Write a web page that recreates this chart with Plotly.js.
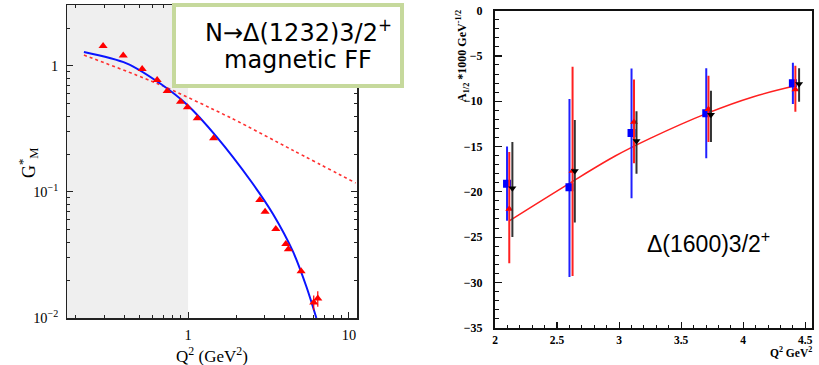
<!DOCTYPE html>
<html>
<head>
<meta charset="utf-8">
<script src="https://cdn.plot.ly/plotly-3.0.1.min.js"></script>
<style>html,body{margin:0;padding:0;background:#fff;}#chart{width:819px;height:365px;}</style>
</head>
<body>
<div id="chart"></div>
<script>
// ---- Left panel: N -> Delta(1232) magnetic form factor ----
const q2Data = [0.296, 0.395, 0.518, 0.642, 0.741, 0.897, 0.99, 1.14, 1.44, 2.79, 3.01, 3.51, 4.05, 4.2, 5.04, 6.04, 6.4];
const gmData = [1.44, 1.21, 0.947, 0.774, 0.633, 0.521, 0.470, 0.385, 0.267, 0.0865, 0.0698, 0.0509, 0.0387, 0.0351, 0.0235, 0.0133, 0.0143];
const gmErr  = [0, 0, 0, 0, 0, 0, 0, 0, 0, 0, 0, 0, 0, 0, 0, 0.0018, 0.002];

const q2Model = [0.225, 0.414, 0.667, 0.99, 1.50, 2.48, 3.37, 4.49, 5.44, 6.27];
const gmModel = [1.29, 1.05, 0.729, 0.49, 0.275, 0.12, 0.0669, 0.0336, 0.0177, 0.01];

const q2Dotted = [0.225, 0.637, 1.86, 4.49, 11.0];
const gmDotted = [1.22, 0.729, 0.385, 0.214, 0.118];

// ---- Right panel: Delta(1600) A1/2 ----
const q2Blue = [2.097, 2.6, 3.10, 3.702, 4.40];
const aBlue  = [-19.1, -19.5, -13.5, -11.34, -8.03];
const blueHi = [-15.0, -9.76, -6.4, -6.37, -5.75];
const blueLo = [-23.2, -29.4, -20.7, -16.3, -10.3];

const q2Red = [2.115, 2.625, 3.12, 3.72, 4.42];
const aRed  = [-21.9, -17.7, -12.3, -10.9, -8.7];
const redHi = [-15.6, -6.2, -7.6, -7.2, -6.1];
const redLo = [-27.9, -29.3, -16.85, -14.5, -11.16];

const q2Blk = [2.14, 2.643, 3.14, 3.74, 4.45];
const aBlk  = [-19.6, -17.7, -14.4, -11.5, -8.1];
const blkHi = [-14.5, -12.07, -11.1, -8.84, -6.37];
const blkLo = [-25.0, -23.4, -18.0, -14.5, -10.05];

const q2Fit = [2.115, 2.6, 2.968, 3.25, 3.707, 4.083, 4.42];
const aFit  = [-23.2, -19.06, -16.05, -14.1, -11.34, -9.5, -8.3];

const W = 819, H = 365;
const px = v => v / W;
const py = v => 1 - v / H;
const up = (hi, y) => hi.map((h, i) => h - y[i]);
const dn = (lo, y) => lo.map((l, i) => y[i] - l);

const serif = 'Times New Roman, Liberation Serif, serif';

const traces = [
  {x: q2Dotted, y: gmDotted, xaxis: 'x', yaxis: 'y', mode: 'lines', line: {color: '#ff3030', width: 1.6, dash: 'dot', shape: 'spline', smoothing: 0.8}, hoverinfo: 'skip'},
  {x: q2Model, y: gmModel, xaxis: 'x', yaxis: 'y', mode: 'lines', line: {color: '#0a14ff', width: 2, shape: 'spline', smoothing: 0.8}, hoverinfo: 'skip'},
  {x: q2Data, y: gmData, xaxis: 'x', yaxis: 'y', mode: 'markers', marker: {symbol: 'triangle-up', size: 8, color: '#ff0000'},
   error_y: {type: 'data', array: gmErr, color: '#ff0000', thickness: 1.2, width: 0}},
  {x: q2Fit, y: aFit, xaxis: 'x2', yaxis: 'y2', mode: 'lines', line: {color: '#ff2020', width: 1.5, shape: 'spline'}},
  {x: q2Blue, y: aBlue, xaxis: 'x2', yaxis: 'y2', mode: 'markers', marker: {symbol: 'square', size: 8, color: '#0000ff'},
   error_y: {type: 'data', symmetric: false, array: up(blueHi, aBlue), arrayminus: dn(blueLo, aBlue), color: '#2020ff', thickness: 2, width: 0}},
  {x: q2Red, y: aRed, xaxis: 'x2', yaxis: 'y2', mode: 'markers', marker: {symbol: 'triangle-up', size: 7, color: '#ff0000'},
   error_y: {type: 'data', symmetric: false, array: up(redHi, aRed), arrayminus: dn(redLo, aRed), color: '#ff2020', thickness: 2, width: 0}},
  {x: q2Blk, y: aBlk, xaxis: 'x2', yaxis: 'y2', mode: 'markers', marker: {symbol: 'triangle-down', size: 7, color: '#000000'},
   error_y: {type: 'data', symmetric: false, array: up(blkHi, aBlk), arrayminus: dn(blkLo, aBlk), color: '#333333', thickness: 2, width: 0}}
];

const layout = {
  width: W, height: H,
  margin: {l: 0, r: 0, t: 0, b: 0},
  paper_bgcolor: '#ffffff', plot_bgcolor: 'rgba(0,0,0,0)',
  showlegend: false,
  font: {family: serif, color: '#000'},
  xaxis: {
    type: 'log', domain: [px(67), px(357)], range: [-0.753, 1.05], anchor: 'y',
    dtick: 1, exponentformat: 'power', showgrid: false, zeroline: false,
    showline: true, linecolor: '#222', linewidth: 1.5, mirror: 'ticks',
    ticks: 'inside', ticklen: 6, tickwidth: 1, tickcolor: '#222',
    minor: {ticks: 'inside', ticklen: 3, tickwidth: 1, tickcolor: '#222', showgrid: false},
    tickfont: {family: serif, size: 11.5, color: '#000'}, ticklabelstandoff: 4
  },
  yaxis: {
    type: 'log', domain: [1 - 318 / H, 1 - 5 / H], range: [-2, 0.484], anchor: 'x',
    dtick: 1, exponentformat: 'power', showgrid: false, zeroline: false,
    showline: true, linecolor: '#222', linewidth: 1.5, mirror: 'ticks',
    ticks: 'inside', ticklen: 6, tickwidth: 1, tickcolor: '#222',
    minor: {ticks: 'inside', ticklen: 3, tickwidth: 1, tickcolor: '#222', showgrid: false},
    tickfont: {family: serif, size: 11.5, color: '#000'}, ticklabelstandoff: 5
  },
  xaxis2: {
    domain: [px(495), px(812)], range: [2, 4.554], anchor: 'y2',
    dtick: 0.5, tick0: 2, showgrid: false, zeroline: false,
    showline: true, linecolor: '#111', linewidth: 2, mirror: true,
    ticks: 'inside', ticklen: 6, tickwidth: 1.2, tickcolor: '#111',
    minor: {dtick: 0.1, ticks: 'inside', ticklen: 3, tickwidth: 1, tickcolor: '#111', showgrid: false},
    tickfont: {family: serif, size: 11.5, weight: 'bold', color: '#000'}
  },
  yaxis2: {
    domain: [1 - 327.7 / H, 1 - 10.6 / H], range: [-35, 0], anchor: 'x2',
    dtick: 5, showgrid: false, zeroline: false,
    showline: true, linecolor: '#111', linewidth: 2, mirror: true,
    ticks: 'inside', ticklen: 7, tickwidth: 1.2, tickcolor: '#111',
    minor: {dtick: 1, ticks: 'inside', ticklen: 4, tickwidth: 1, tickcolor: '#111', showgrid: false},
    tickfont: {family: serif, size: 12, weight: 'bold', color: '#000'}, ticklabelstandoff: 8
  },
  shapes: [
    {type: 'rect', xref: 'x', yref: 'y domain', x0: 0.1, x1: 1, y0: 0, y1: 1, fillcolor: '#efefef', line: {width: 0}, layer: 'below'},
    {type: 'rect', xref: 'paper', yref: 'paper', x0: px(174), x1: px(402), y0: py(86), y1: py(5), fillcolor: '#ffffff', line: {color: '#c6d99c', width: 4}, layer: 'above'}
  ],
  annotations: [
    {xref: 'paper', yref: 'paper', x: px(298), y: py(31), xanchor: 'center', yanchor: 'middle', showarrow: false,
     text: 'N→Δ(1232)3/2<sup>+</sup>', font: {family: 'DejaVu Sans, sans-serif', size: 24, color: '#000'}},
    {xref: 'paper', yref: 'paper', x: px(298), y: py(60), xanchor: 'center', yanchor: 'middle', showarrow: false,
     text: 'magnetic FF', font: {family: 'DejaVu Sans, sans-serif', size: 24, color: '#000'}},
    {xref: 'paper', yref: 'paper', x: px(28), y: py(163), xanchor: 'center', yanchor: 'middle', showarrow: false, textangle: -90,
     text: 'G<sup>*</sup><sub>M</sub>', font: {family: serif, size: 18, color: '#000'}},
    {xref: 'paper', yref: 'paper', x: px(212), y: py(355), xanchor: 'center', yanchor: 'middle', showarrow: false,
     text: 'Q<sup>2</sup> (GeV<sup>2</sup>)', font: {family: serif, size: 17, color: '#000'}},
    {xref: 'paper', yref: 'paper', x: px(462), y: py(56), xanchor: 'center', yanchor: 'middle', showarrow: false, textangle: -90,
     text: 'A<sub>1/2</sub> *1000 GeV<sup>-1/2</sup>', font: {family: serif, size: 12, weight: 'bold', color: '#000'}},
    {xref: 'paper', yref: 'paper', x: px(791), y: py(352), xanchor: 'center', yanchor: 'middle', showarrow: false,
     text: 'Q<sup>2</sup> GeV<sup>2</sup>', font: {family: serif, size: 11.5, weight: 'bold', color: '#000'}},
    {xref: 'paper', yref: 'paper', x: px(708), y: py(242), xanchor: 'center', yanchor: 'middle', showarrow: false,
     text: 'Δ(1600)3/2<sup>+</sup>', font: {family: 'Liberation Sans, Arial, sans-serif', size: 23, color: '#000'}}
  ]
};

Plotly.newPlot('chart', traces, layout, {staticPlot: true, displayModeBar: false});
</script>
</body>
</html>
